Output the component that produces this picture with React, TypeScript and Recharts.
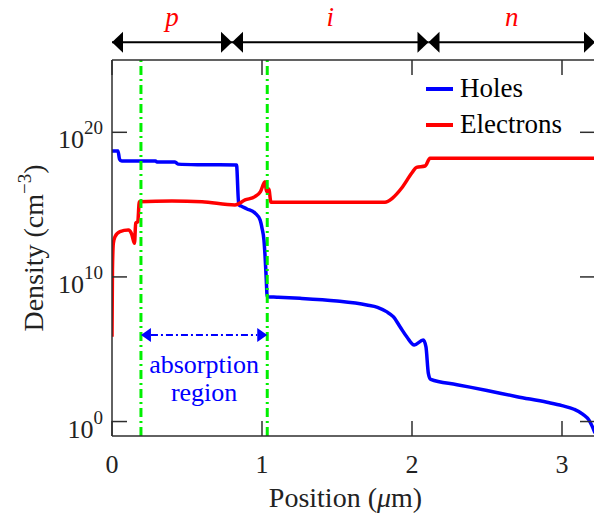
import React from 'react';
import { LineChart, Line, XAxis, YAxis, ReferenceLine, Legend } from 'recharts';

// hole density along the device (x in µm, log10 of cm^-3)
const holesX = [0, 0.04, 0.05, 0.065, 0.29, 0.3, 0.42, 0.44, 0.6, 0.83, 0.845, 0.86, 0.9, 0.953, 0.987, 1.0, 1.013, 1.02, 1.027, 1.035, 1.1, 1.253, 1.5, 1.698, 1.77, 1.83, 1.875, 1.92, 1.965, 2.015, 2.075, 2.093, 2.109, 2.125, 2.3, 2.5, 2.7, 2.9, 3.0, 3.08, 3.14, 3.18, 3.2, 3.22];
const holesLog = [18.71, 18.71, 18.15, 18.01, 18.01, 17.94, 17.94, 17.8, 17.76, 17.74, 14.98, 14.9, 14.7, 14.42, 13.94, 13.38, 12.55, 11.51, 10.13, 8.63, 8.6, 8.52, 8.33, 8.06, 7.9, 7.6, 7.25, 6.56, 5.86, 5.29, 5.64, 5.17, 3.33, 2.91, 2.55, 2.15, 1.72, 1.33, 1.1, 0.85, 0.5, 0.1, -0.3, -0.8];

// electron density along the device
const electronsX = [0, 0.003, 0.009, 0.02, 0.053, 0.109, 0.131, 0.15, 0.158, 0.172, 0.182, 0.4, 0.6, 0.82, 0.887, 0.953, 0.99, 1.02, 1.03, 1.045, 1.06, 1.82, 1.87, 1.93, 2.0, 2.03, 2.087, 2.12, 3.22];
const electronsLog = [5.86, 10.5, 12.32, 12.78, 13.13, 13.24, 12.97, 12.32, 13.71, 13.82, 15.2, 15.25, 15.2, 14.98, 15.32, 15.55, 15.9, 16.58, 15.9, 16.08, 15.16, 15.16, 15.45, 16.13, 17.2, 17.58, 17.67, 18.2, 18.2];

// p / i / n layer boundaries (µm)
const regionEdges = [0, 0.8, 2.11, 3.22];
const regionNames = ['p', 'i', 'n'];
// absorption region limits (µm)
const absorptionEdges = [0.193, 1.035];

const seriesNames = ['Holes', 'Electrons'];
const xTicks = [0, 1, 2, 3];
const yTicks = [1, 1e10, 1e20];
const xDomain = [0, 3.22];
const yDomain = [0.1, 1e25];

const holes = holesX.map((x, i) => ({ x, density: 10 ** holesLog[i] }));
const electrons = electronsX.map((x, i) => ({ x, density: 10 ** electronsLog[i] }));

const FONT = '"Liberation Serif", "Times New Roman", serif';
const AXIS = '#2e2e2e';
const TICK_LEN = 15;

const BottomTick = ({ x, y, payload }: any) => (
  <g>
    <line x1={x} x2={x} y1={y} y2={y - TICK_LEN} stroke={AXIS} strokeWidth={1.5} />
    <text x={x} y={y + 37} textAnchor="middle" fontFamily={FONT} fontSize={26} fill="#222">
      {payload.value}
    </text>
  </g>
);

const TopTick = ({ x, y }: any) => (
  <line x1={x} x2={x} y1={y} y2={y + TICK_LEN} stroke={AXIS} strokeWidth={1.5} />
);

const LeftTick = ({ x, y, payload }: any) => {
  const exp = Math.round(Math.log10(payload.value));
  return (
    <g>
      <line x1={x} x2={x + TICK_LEN} y1={y} y2={y} stroke={AXIS} strokeWidth={1.5} />
      <text x={x - 9} y={y + 16} textAnchor="end" fontFamily={FONT} fontSize={26} fill="#222">
        <tspan>10</tspan>
        <tspan dy={-14} fontSize={19}>{exp}</tspan>
      </text>
    </g>
  );
};

const RightTick = ({ x, y }: any) => (
  <line x1={x} x2={x - TICK_LEN} y1={y} y2={y} stroke={AXIS} strokeWidth={1.5} />
);

// double-headed black arrow spanning one layer, with its name above
const LayerArrow = ({ x1, y1, x2, name }: any) => {
  const len = 11;
  const half = 10.5;
  return (
    <g>
      <line x1={x1} y1={y1} x2={x2} y2={y1} stroke="#000" strokeWidth={2} />
      <polygon points={`${x1},${y1} ${x1 + len},${y1 - half} ${x1 + len},${y1 + half}`} fill="#000" />
      <polygon points={`${x2},${y1} ${x2 - len},${y1 - half} ${x2 - len},${y1 + half}`} fill="#000" />
      <text x={(x1 + x2) / 2} y={y1 - 16} textAnchor="middle" fontFamily={FONT} fontStyle="italic" fontSize={27} fill="#ff0000">
        {name}
      </text>
    </g>
  );
};

const AbsorptionArrow = ({ x1, y1, x2 }: any) => {
  const len = 10;
  const half = 7;
  const mid = (x1 + x2) / 2;
  return (
    <g>
      <line x1={x1 + len} y1={y1} x2={x2 - len} y2={y1} stroke="#0000ff" strokeWidth={2} strokeDasharray="7 3 2 3" />
      <polygon points={`${x1},${y1} ${x1 + len},${y1 - half} ${x1 + len},${y1 + half}`} fill="#0000ff" />
      <polygon points={`${x2},${y1} ${x2 - len},${y1 - half} ${x2 - len},${y1 + half}`} fill="#0000ff" />
      <text x={mid} y={y1 + 38} textAnchor="middle" fontFamily={FONT} fontSize={26} fill="#0000ff">absorption</text>
      <text x={mid} y={y1 + 66} textAnchor="middle" fontFamily={FONT} fontSize={26} fill="#0000ff">region</text>
    </g>
  );
};

const renderLegend = ({ payload }: any) => {
  const items = [...(payload || [])].sort(
    (a: any, b: any) => seriesNames.indexOf(a.value) - seriesNames.indexOf(b.value)
  );
  return (
    <div style={{ fontFamily: FONT, fontSize: 27, color: '#000' }}>
      {items.map((entry: any) => (
        <div key={entry.value} style={{ display: 'flex', alignItems: 'center', height: 35.7 }}>
          <svg width={34} height={10}>
            <line x1={0} x2={27} y1={5} y2={5} stroke={entry.color} strokeWidth={4} />
          </svg>
          <span>{entry.value}</span>
        </div>
      ))}
    </div>
  );
};

const App: React.FC = () => {
  const arrowY = 10 ** 26.23;
  const absorptionY = 10 ** 5.98;
  return (
    <div style={{ position: 'absolute', left: 0, top: 0, width: 594, height: 514, overflow: 'hidden', background: '#fff' }}>
      <LineChart width={600} height={514} margin={{ top: 59, right: 4, bottom: 48, left: 52 }}>
        <XAxis
          dataKey="x"
          type="number"
          domain={xDomain}
          ticks={xTicks}
          allowDataOverflow
          height={30}
          tickSize={0}
          tickMargin={0}
          tickLine={false}
          axisLine={{ stroke: AXIS, strokeWidth: 1.5 }}
          tick={<BottomTick />}
          label={{
            content: ({ viewBox }: any) => (
              <text x={viewBox.x + viewBox.width / 2 - 8} y={436 + 71} textAnchor="middle" fontFamily={FONT} fontSize={28} fill="#222">
                Position (<tspan fontStyle="italic">μ</tspan>m)
              </text>
            ),
          }}
        />
        <XAxis
          xAxisId="top"
          orientation="top"
          dataKey="x"
          type="number"
          domain={xDomain}
          ticks={xTicks}
          allowDataOverflow
          height={1}
          tickSize={0}
          tickMargin={0}
          tickLine={false}
          axisLine={{ stroke: AXIS, strokeWidth: 1.5 }}
          tick={<TopTick />}
        />
        <YAxis
          type="number"
          scale="log"
          domain={yDomain}
          ticks={yTicks}
          allowDataOverflow
          width={60}
          tickSize={0}
          tickMargin={0}
          tickLine={false}
          axisLine={{ stroke: AXIS, strokeWidth: 1.5 }}
          tick={<LeftTick />}
          label={{
            content: ({ viewBox }: any) => {
              const cy = viewBox.y + viewBox.height / 2;
              return (
                <text x={43} y={cy} transform={`rotate(-90 43 ${cy})`} textAnchor="middle" fontFamily={FONT} fontSize={28} fill="#222">
                  Density (cm<tspan dy={-12} fontSize={19}>−3</tspan><tspan dy={12}>)</tspan>
                </text>
              );
            },
          }}
        />
        <YAxis
          yAxisId="right"
          orientation="right"
          type="number"
          scale="log"
          domain={yDomain}
          ticks={yTicks}
          allowDataOverflow
          width={1}
          tickSize={0}
          tickMargin={0}
          tickLine={false}
          axisLine={{ stroke: AXIS, strokeWidth: 1.5 }}
          tick={<RightTick />}
        />
        <Line
          data={holes}
          dataKey="density"
          name="Holes"
          type="monotoneX"
          stroke="#0000ff"
          strokeWidth={3.5}
          dot={false}
          activeDot={false}
          isAnimationActive={false}
        />
        <Line
          data={electrons}
          dataKey="density"
          name="Electrons"
          type="monotoneX"
          stroke="#ff0000"
          strokeWidth={3.5}
          dot={false}
          activeDot={false}
          isAnimationActive={false}
        />
        {absorptionEdges.map((x) => (
          <ReferenceLine key={x} x={x} stroke="#00f000" strokeWidth={3} strokeDasharray="9 4 2 4" />
        ))}
        <ReferenceLine
          segment={[{ x: absorptionEdges[0], y: absorptionY }, { x: absorptionEdges[1], y: absorptionY }]}
          ifOverflow="visible"
          shape={(p: any) => <AbsorptionArrow {...p} />}
        />
        {regionNames.map((name, i) => (
          <ReferenceLine
            key={name}
            segment={[{ x: regionEdges[i], y: arrowY }, { x: regionEdges[i + 1], y: arrowY }]}
            ifOverflow="visible"
            shape={(p: any) => <LayerArrow {...p} name={name} />}
          />
        ))}
        <Legend
          layout="vertical"
          align="center"
          verticalAlign="middle"
          content={renderLegend}
          wrapperStyle={{ top: 71, left: 426, width: 170 }}
        />
      </LineChart>
    </div>
  );
};

export default App;
